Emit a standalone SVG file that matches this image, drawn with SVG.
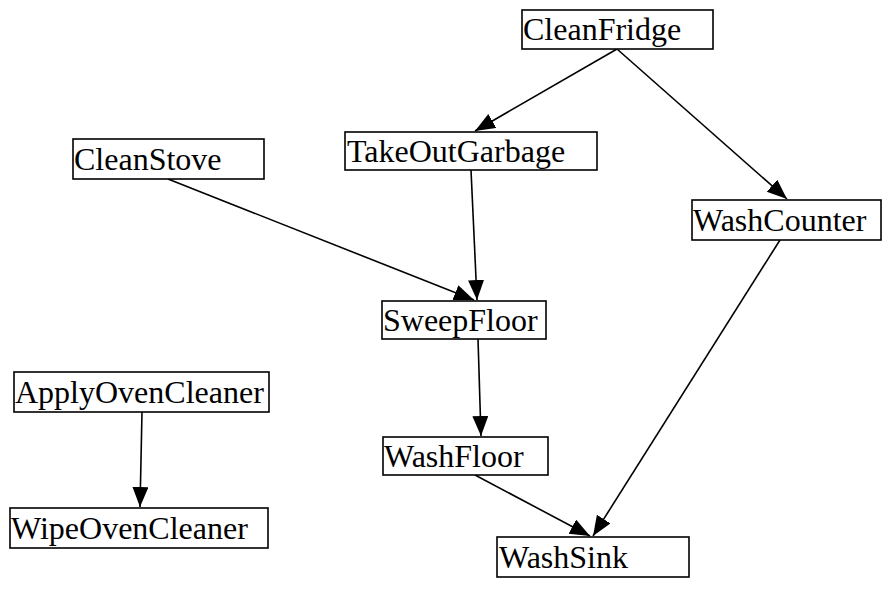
<svg xmlns="http://www.w3.org/2000/svg" width="882" height="592" viewBox="0 0 882 592">
<style>
.box{fill:#fff;stroke:#000;stroke-width:1.6}
.lbl{font-family:"Liberation Serif","Times New Roman",serif;font-size:32px;fill:#000}
.edge{fill:none;stroke:#000;stroke-width:1.6}
</style>
<defs>
<marker id="ah" markerUnits="userSpaceOnUse" markerWidth="22" markerHeight="18" refX="20" refY="8" orient="auto">
<path d="M0,0 L20,8 L0,16 Z" fill="#000"/>
</marker>
</defs>
<rect width="882" height="592" fill="#fff"/>
<g id="connectors">
<path class="edge" d="M617,49 L475,131" marker-end="url(#ah)"/>
<path class="edge" d="M617,49 L787,199" marker-end="url(#ah)"/>
<path class="edge" d="M168,179 L474,300" marker-end="url(#ah)"/>
<path class="edge" d="M471,170 L477,300" marker-end="url(#ah)"/>
<path class="edge" d="M478,339 L481,436" marker-end="url(#ah)"/>
<path class="edge" d="M475,475 L590,536" marker-end="url(#ah)"/>
<path class="edge" d="M780,240 L593,536" marker-end="url(#ah)"/>
<path class="edge" d="M142,412 L140,507" marker-end="url(#ah)"/>
</g>
<g id="CleanFridge"><rect class="box" x="522" y="10" width="191" height="39"/><text class="lbl" x="523" y="40">CleanFridge</text></g>
<g id="TakeOutGarbage"><rect class="box" x="345" y="132" width="252" height="38"/><text class="lbl" x="347" y="162">TakeOutGarbage</text></g>
<g id="CleanStove"><rect class="box" x="73" y="139" width="191" height="40"/><text class="lbl" x="74" y="170">CleanStove</text></g>
<g id="WashCounter"><rect class="box" x="692" y="200" width="189" height="40"/><text class="lbl" x="693" y="231">WashCounter</text></g>
<g id="SweepFloor"><rect class="box" x="382" y="301" width="164" height="38"/><text class="lbl" x="383" y="331">SweepFloor</text></g>
<g id="ApplyOvenCleaner"><rect class="box" x="14" y="372" width="255" height="40"/><text class="lbl" x="15" y="403">ApplyOvenCleaner</text></g>
<g id="WashFloor"><rect class="box" x="383" y="437" width="165" height="38"/><text class="lbl" x="384" y="467">WashFloor</text></g>
<g id="WipeOvenCleaner"><rect class="box" x="10" y="508" width="258" height="40"/><text class="lbl" x="11" y="539">WipeOvenCleaner</text></g>
<g id="WashSink"><rect class="box" x="497" y="537" width="192" height="40"/><text class="lbl" x="499" y="568">WashSink</text></g>
</svg>
